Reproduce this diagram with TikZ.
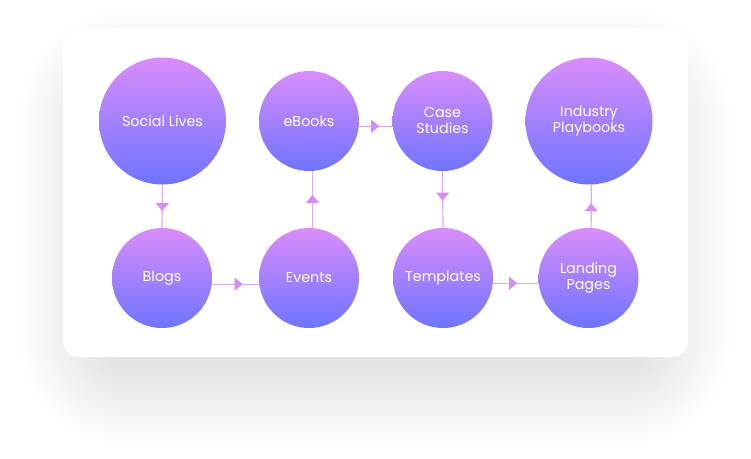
\documentclass[tikz,border=0pt]{standalone}
\usepackage{fontspec}
\setmainfont{Poppins}
\usetikzlibrary{arrows.meta,decorations.markings}
\definecolor{gtop}{HTML}{D98DFA}
\definecolor{gbot}{HTML}{6E74FF}
\definecolor{linec}{HTML}{E0A6F8}
\definecolor{headc}{HTML}{D78BF6}
\tikzset{
  bubble/.style={circle, inner sep=0pt, minimum size=#1, top color=gtop, bottom color=gbot,
    text=white, align=center, font=\fontsize{14.3}{16}\selectfont},
  conn/.style={draw=linec, line width=1.2pt, postaction={decorate},
    decoration={markings, mark=at position #1 with {\arrow[headc]{Triangle[width=13pt,length=8pt]}}}},
}
\begin{document}
\begin{tikzpicture}[x=1pt,y=-1pt]
\useasboundingbox (0,0) rectangle (751,458);
% shadow
\foreach \i in {0,...,30}{
  \fill[black, opacity=0.0055, rounded corners={16+3*\i}]
    (110-3*\i,100-3*\i) rectangle (641+3*\i,355+3*\i);
}
% card
\fill[white, rounded corners=16] (63,28) rectangle (688,357);
% nodes
\node[bubble=127pt] (social) at (162.5,121) {Social Lives};
\node[bubble=100pt] (blogs) at (162,278) {Blogs};
\node[bubble=100pt] (events) at (309,278) {Events};
\node[bubble=100pt] (ebooks) at (309,121) {eBooks};
\node[bubble=100pt] (case) at (442.5,121) {Case\\Studies};
\node[bubble=100pt] (templates) at (443,278) {Templates};
\node[bubble=100pt] (landing) at (588.5,278) {Landing\\Pages};
\node[bubble=127pt] (industry) at (589,121) {Industry\\Playbooks};
% connectors
\draw[conn=0.61] (social.south) -- (blogs.north);
\draw[conn=0.65] (blogs.-7) -- (events.187);
\draw[conn=0.58] (events.86.5) -- (ebooks.-86.5);
\draw[conn=0.6] (ebooks.-6) -- (case.186);
\draw[conn=0.52] (case.south) -- (templates.north);
\draw[conn=0.53] (templates.-6) -- (landing.186);
\draw[conn=0.57] (landing.87.7) -- (industry.-88.2);
\end{tikzpicture}
\end{document}
